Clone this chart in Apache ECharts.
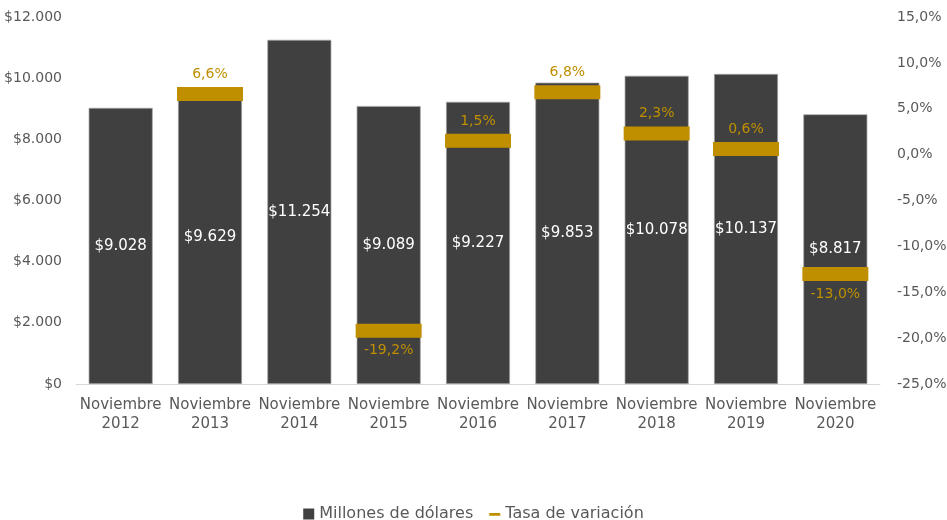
<!DOCTYPE html>
<html lang="es">
<head>
    <meta charset="UTF-8">
    <title>Exportaciones noviembre</title>
    <script src="https://cdn.jsdelivr.net/npm/echarts@6/dist/echarts.min.js"></script>
    <style>
        html, body { margin: 0; padding: 0; background: #fff; }
        #chart { width: 947px; height: 520px; }
    </style>
</head>
<body>
<div id="chart"></div>
<script type="text/javascript">
    var categorias = ['Noviembre\n2012', 'Noviembre\n2013', 'Noviembre\n2014', 'Noviembre\n2015', 'Noviembre\n2016',
        'Noviembre\n2017', 'Noviembre\n2018', 'Noviembre\n2019', 'Noviembre\n2020'];
    var millones = [9028, 9629, 11254, 9089, 9227, 9853, 10078, 10137, 8817];
    var tasa = [null, 6.6, null, -19.2, 1.5, 6.8, 2.3, 0.6, -13.0];

    var fuente = 'DejaVu Sans';
    var gris = '#595959';
    var oro = '#BF8F00';

    function miles(v) {
        return String(v).replace(/\B(?=(\d{3})+(?!\d))/g, '.');
    }
    function pct(v) {
        return v.toFixed(1).replace('.', ',') + '%';
    }

    // etiqueta arriba o abajo segun el signo
    var tasaData = tasa.map(function (v) {
        if (v === null) return null;
        return {
            value: v,
            label: { position: v < 0 ? 'bottom' : 'top' }
        };
    });

    var chart = echarts.init(document.getElementById('chart'));
    var option = {
        animation: false,
        textStyle: { fontFamily: fuente },
        grid: { left: 76, right: 67, top: 17, bottom: 136, containLabel: false, outerBoundsMode: 'none' },
        legend: {
            top: 501,
            left: 'center',
            itemWidth: 11,
            itemHeight: 11,
            itemGap: 16,
            textStyle: { color: gris, fontSize: 16, fontFamily: fuente },
            data: [
                { name: 'Millones de dólares', icon: 'rect', itemStyle: { borderWidth: 0 } },
                { name: 'Tasa de variación', icon: 'path://M0,0L0.01,0M0,12L0.01,12M0,5H12V8H0Z' }
            ]
        },
        xAxis: {
            type: 'category',
            data: categorias,
            axisTick: { show: false },
            axisLine: { lineStyle: { color: '#D9D9D9', width: 1 } },
            axisLabel: {
                color: gris,
                fontSize: 15,
                lineHeight: 19,
                margin: 12,
                interval: 0
            }
        },
        yAxis: [
            {
                type: 'value',
                min: 0,
                max: 12000,
                interval: 2000,
                splitLine: { show: false },
                axisLine: { show: false },
                axisTick: { show: false },
                axisLabel: {
                    color: gris,
                    fontSize: 14,
                    margin: 14,
                    formatter: function (v) { return '$' + miles(v); }
                }
            },
            {
                type: 'value',
                min: -25,
                max: 15,
                interval: 5,
                splitLine: { show: false },
                axisLine: { show: false },
                axisTick: { show: false },
                axisLabel: {
                    color: gris,
                    fontSize: 14,
                    margin: 17,
                    formatter: function (v) { return pct(v); }
                }
            }
        ],
        series: [
            {
                name: 'Millones de dólares',
                type: 'bar',
                data: millones,
                barWidth: 64,
                itemStyle: { color: '#404040', borderColor: '#a6a6a6', borderWidth: 0.7 },
                label: {
                    show: true,
                    position: 'inside',
                    color: '#ffffff',
                    fontSize: 15,
                    formatter: function (p) { return '$' + miles(p.value); }
                }
            },
            {
                name: 'Tasa de variación',
                type: 'scatter',
                yAxisIndex: 1,
                data: tasaData,
                symbol: 'rect',
                symbolSize: [66, 14],
                itemStyle: { color: oro, opacity: 1 },
                label: {
                    show: true,
                    color: oro,
                    fontSize: 14,
                    distance: 6,
                    formatter: function (p) { return pct(p.value); }
                },
                z: 3
            }
        ]
    };
    chart.setOption(option);
    window.addEventListener('resize', function () {
        chart.resize();
    });
</script>
</body>
</html>
